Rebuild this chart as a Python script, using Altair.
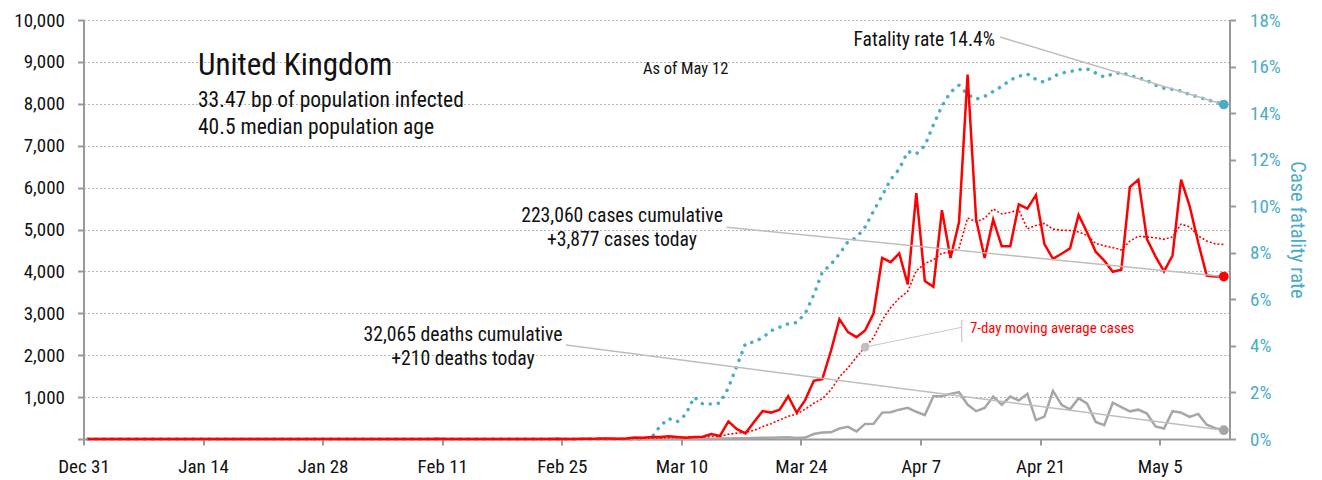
import altair as alt
import pandas as pd

# ---------------- data ----------------
first_day = "2019-12-31"
n_days = 134  # Dec 31, 2019 ... May 12, 2020

# daily new cases
cases_dec_feb = [0] * 31 + [2, 0, 0, 0, 0, 0, 0, 1, 0, 0, 4, 1, 0, 1, 0,
                            0, 0, 0, 0, 0, 0, 0, 0, 0, 4, 0, 2, 5, 3, 12]
cases_mar_may = [12, 4, 11, 34, 29, 46, 46, 65, 45, 30,
                 50, 55, 120, 70, 420, 235, 135, 405, 665, 630,
                 700, 1020, 630, 935, 1390, 1430, 2100, 2860, 2550, 2430,
                 2590, 3000, 4320, 4220, 4430, 3690, 5870, 3770, 3630, 5460,
                 4320, 5170, 8700, 5240, 4320, 5240, 4600, 4600, 5600, 5500,
                 5820, 4650, 4300, 4420, 4550, 5350, 4930, 4470, 4260, 3990,
                 4040, 6010, 6190, 4770, 4360, 4000, 4380, 6190, 5560, 4690,
                 3900, 3880, 3877]
# daily new deaths
deaths_before = [0] * 66
deaths_after = [1, 0, 1, 1, 2, 1, 2, 1, 10, 14,
                20, 16, 22, 30, 28, 33, 40, 26, 35, 120,
                155, 160, 250, 290, 180, 360, 362, 630, 640, 700,
                745, 650, 570, 1020, 1020, 1077, 1116, 822, 665, 742,
                1014, 818, 1014, 920, 1077, 450, 535, 1148, 818, 708,
                974, 842, 408, 330, 866, 762, 660, 700, 606, 298,
                252, 664, 630, 526, 600, 340, 260, 210]
# case fatality rate, percent
cfr_before = [0] * 66
cfr_after = [0.05, 0.55, 0.88, 0.74, 1.05, 1.8, 1.5, 1.5, 1.54, 2.2,
             3.15, 4.1, 4.17, 4.35, 4.65, 4.8, 4.95, 5.0, 5.4, 6.2,
             7.17, 7.5, 7.95, 8.48, 8.65, 9.1, 9.8, 10.45, 11.15, 11.6,
             12.35, 12.25, 12.6, 13.5, 14.3, 14.9, 15.2, 14.8, 14.6, 14.72,
             14.93, 15.15, 15.42, 15.58, 15.68, 15.45, 15.32, 15.57, 15.72, 15.78,
             15.87, 15.9, 15.72, 15.55, 15.68, 15.74, 15.62, 15.52, 15.4, 15.2,
             15.07, 15.02, 14.95, 14.8, 14.7, 14.58, 14.48, 14.37]

cases = cases_dec_feb + cases_mar_may
deaths = deaths_before + deaths_after
cfr = cfr_before + cfr_after
assert len(cases) == n_days and len(deaths) == n_days and len(cfr) == n_days

x_tick_days = ["2019-12-31", "2020-01-14", "2020-01-28", "2020-02-11", "2020-02-25",
               "2020-03-10", "2020-03-24", "2020-04-07", "2020-04-21", "2020-05-05"]
left_ticks = [0, 1000, 2000, 3000, 4000, 5000, 6000, 7000, 8000, 9000, 10000]
right_ticks = [0, 2, 4, 6, 8, 10, 12, 14, 16, 18]

title_lines = ["United Kingdom", "33.47 bp of population infected", "40.5 median population age"]
as_of_text = "As of May 12"
cfr_label = "Fatality rate 14.4%"
cases_labels = ["223,060 cases cumulative", "+3,877 cases today"]
deaths_labels = ["32,065 deaths cumulative", "+210 deaths today"]
ma_label = "7-day moving average cases"
ma_marker_day = "2020-03-31"
last_day = "2020-05-12"

# ---------------- styling ----------------
FONT = "Roboto Condensed, Liberation Sans Narrow, DejaVu Sans Condensed, sans-serif"
RED = "#ff0000"
TEAL = "#4bacc6"
GRAY = "#a6a6a6"
LEADER = "#bdbdbd"
AXIS = "#999999"
TEXT = "#111111"
TOP = 5  # plot area starts a little lower so the top tick labels stay inside the page

days = pd.date_range(first_day, periods=n_days, freq="D")
df = pd.DataFrame({
    "date": [d.strftime("%Y-%m-%dT12:00:00Z") for d in days],
    "day": [d.strftime("%Y-%m-%d") for d in days],
    "cases": cases,
    "deaths": deaths,
    "cfr": cfr,
})


def dt(s, hours=0):
    y, m, d = (int(v) for v in s.split("-"))
    return alt.DateTime(year=y, month=m, date=d, hours=hours, utc=True)


x_enc = alt.X(
    "date:T",
    scale=alt.Scale(type="utc", domain=[dt("2019-12-31"), dt("2020-05-13", 4)]),
    axis=alt.Axis(values=[dt(s) for s in x_tick_days], format="%b %-d", title=None,
                  labelFlush=False, labelOverlap=False, labelPadding=12, grid=False),
)


def yl(field):
    return alt.Y(
        f"{field}:Q",
        scale=alt.Scale(domain=[0, 10000], nice=False),
        axis=alt.Axis(values=left_ticks, title=None, orient="left",
                      labelExpr="datum.value == 0 ? '' : format(datum.value, ',')",
                      grid=True, gridDash=[2, 2], gridColor="#b5b5b5", gridWidth=1,
                      labelPadding=13, labelFlush=False),
    )


y_right = alt.Y(
    "cfr:Q",
    scale=alt.Scale(domain=[0, 18], nice=False),
    axis=alt.Axis(values=right_ticks, orient="right", labelExpr="datum.value + '%'",
                  title="Case fatality rate", titleColor=TEAL, labelColor=TEAL,
                  titleFontSize=20.5,
                  grid=False, labelPadding=14, titlePadding=6, titleAngle=90,
                  labelFlush=False),
)


def txt(text, x, y, size, color=TEXT, align="left"):
    return alt.Chart(pd.DataFrame({"t": [text]})).mark_text(
        align=align, baseline="alphabetic", font=FONT, fontSize=size, color=color
    ).encode(x=alt.value(x), y=alt.value(y - TOP), text="t:N")


base = alt.Chart(df)
last = base.transform_filter(alt.datum.day == last_day)

# ----- right-axis layer (fatality rate) -----
cfr_line = base.mark_line(color=TEAL, strokeWidth=3.5, strokeDash=[0.1, 8],
                          strokeCap="round").encode(x=x_enc, y=y_right)
cfr_leader = last.mark_rule(color=LEADER, strokeWidth=1.5).encode(
    x=x_enc, y=y_right, x2=alt.value(916.5), y2=alt.value(22 - TOP))
cfr_dot = last.mark_point(filled=True, size=95, color=TEAL, opacity=1).encode(x=x_enc, y=y_right)
right_layer = alt.layer(cfr_line, cfr_leader, cfr_dot)

# ----- left-axis layer (cases & deaths) -----
deaths_line = base.mark_line(color=GRAY, strokeWidth=2.5).encode(x=x_enc, y=yl("deaths"))
ma_base = base.transform_window(ma="mean(cases)", frame=[-6, 0], sort=[alt.SortField("date")])
ma_line = ma_base.mark_line(color=RED, strokeWidth=1.6, strokeDash=[2, 2]).encode(x=x_enc, y=yl("ma"))
cases_line = base.mark_line(color=RED, strokeWidth=2.5).encode(x=x_enc, y=yl("cases"))

ma_pick = ma_base.transform_filter(alt.datum.day == ma_marker_day)
ma_leader = ma_pick.mark_rule(color="#c8c8c8", strokeWidth=1).encode(
    x=x_enc, y=yl("ma"), x2=alt.value(878.2), y2=alt.value(312.3 - TOP))
ma_dot = ma_pick.mark_point(filled=True, size=75, color="#c0c0c0", opacity=1).encode(x=x_enc, y=yl("ma"))
ma_bar = alt.Chart(pd.DataFrame({"t": [ma_label]})).mark_rule(color="#c8c8c8", strokeWidth=1.2).encode(
    x=alt.value(878.2), y=alt.value(305 - TOP), y2=alt.value(327 - TOP))

cases_leader = last.mark_rule(color=LEADER, strokeWidth=1.5).encode(
    x=x_enc, y=yl("cases"), x2=alt.value(643.2), y2=alt.value(212.3 - TOP))
deaths_leader = last.mark_rule(color=LEADER, strokeWidth=1.5).encode(
    x=x_enc, y=yl("deaths"), x2=alt.value(482.5), y2=alt.value(330 - TOP))
cases_dot = last.mark_point(filled=True, size=95, color=RED, opacity=1).encode(x=x_enc, y=yl("cases"))
deaths_dot = last.mark_point(filled=True, size=95, color=GRAY, opacity=1).encode(x=x_enc, y=yl("deaths"))

texts = [
    txt(title_lines[0], 114.5, 60, 31),
    txt(title_lines[1], 114.5, 92, 21.5),
    txt(title_lines[2], 114.5, 119, 21.5),
    txt(as_of_text, 559.5, 58.5, 16.5),
    txt(cfr_label, 911.5, 30.5, 19.5, align="right"),
    txt(cases_labels[0], 538.5, 207, 19.7, align="center"),
    txt(cases_labels[1], 538.5, 231, 19.7, align="center"),
    txt(deaths_labels[0], 379.5, 325.5, 19.7, align="center"),
    txt(deaths_labels[1], 379.5, 349.5, 19.7, align="center"),
    txt(ma_label, 886.5, 318.4, 14.8, color=RED),
]

left_layer = alt.layer(deaths_line, ma_line, cases_line, cases_leader, deaths_leader,
                       ma_leader, ma_bar, ma_dot, cases_dot, deaths_dot, *texts)

chart = alt.layer(right_layer, left_layer).resolve_scale(y="independent").properties(
    width=1146, height=424 - TOP,
    autosize=alt.AutoSizeParams(type="none"),
    padding={"left": 75.5, "top": 7 + TOP, "right": 84.5, "bottom": 40},
    background="white",
).configure(font=FONT).configure_axis(
    labelFont=FONT, titleFont=FONT, labelFontSize=19, titleFontSize=20.5,
    titleFontWeight="normal", labelColor=TEXT,
    domainColor=AXIS, domainWidth=2, tickColor=AXIS, tickWidth=2, tickSize=6,
).configure_view(stroke=None)

chart.save("out.html", embed_options={"renderer": "svg", "actions": False})
